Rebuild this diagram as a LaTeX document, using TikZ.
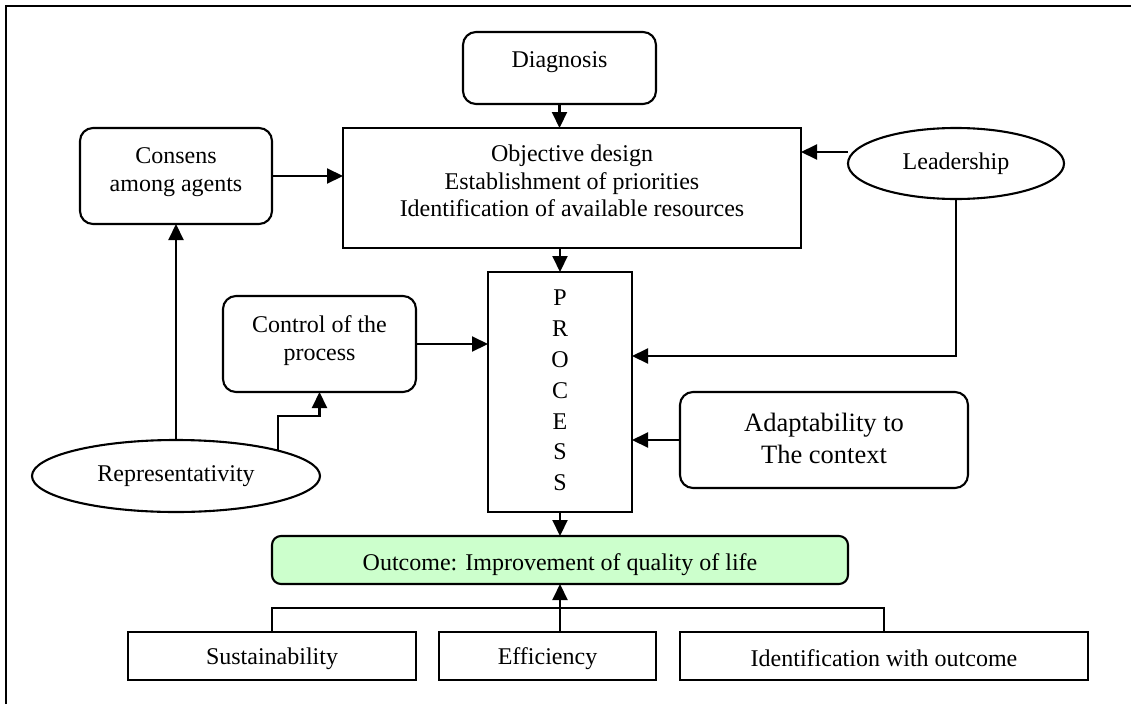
\documentclass[tikz,border=0pt]{standalone}
\usepackage{fontspec}
\setmainfont{Liberation Serif}
\usetikzlibrary{shapes.geometric,arrows.meta}

\definecolor{outcomegreen}{HTML}{CCFFCC}

% invisible struts that pad a node's text box below or above
\newcommand\padbelow[1]{\rule[-#1]{0pt}{0pt}}
\newcommand\padabove[1]{\rule{0pt}{#1}}

\begin{document}
\begin{tikzpicture}[x=1pt,y=-1pt,
  every node/.style={inner sep=0pt, outer sep=0pt, align=center,
                     font=\fontsize{24}{27.6}\selectfont},
  base/.style={draw, line width=2.1pt},
  sqbox/.style={base, rectangle},
  rbox/.style={base, rectangle, rounded corners=13pt},
  oval/.style={base, ellipse},
  arr/.style={line width=2.1pt, -{Triangle[length=16pt,width=15pt]}},
  link/.style={line width=2.1pt}]

\useasboundingbox (0,0) rectangle (1131,704);

% outer frame (top and left edges)
\draw[line width=2.1pt] (6,704) -- (6,6) -- (1131,6);

% planning stage
\node[rbox, minimum width=193, minimum height=72] (diag) at (559.5,68)
  {\raisebox{16pt}{Diagnosis}};
\node[sqbox, minimum width=458, minimum height=120] (obj) at (572,188)
  {Objective design\\Establishment of priorities\\Identification of available resources\padbelow{14pt}};
\node[rbox, minimum width=192, minimum height=96] (cons) at (176,176)
  {Consens\\among agents\padbelow{12.5pt}};
\node[oval, minimum width=216, minimum height=71] (lead) at (956,163.5)
  {Leadership};

% process stage
\node[sqbox, minimum width=144, minimum height=240,
      font=\fontsize{24}{30.8}\selectfont] (proc) at (560,392)
  {P\\R\\O\\C\\E\\S\\S\padbelow{3pt}};
\node[rbox, minimum width=193, minimum height=96] (ctrl) at (319.5,344)
  {Control of the\\process\padbelow{12.5pt}};
\node[rbox, minimum width=288, minimum height=96,
      font=\fontsize{26.5}{32}\selectfont] (adapt) at (824,440)
  {Adaptability to\\The context\padbelow{4pt}};
\node[oval, minimum width=288, minimum height=72] (rep) at (176,476)
  {Representativity};

% outcome stage
\node[rbox, rounded corners=9pt, fill=outcomegreen,
      minimum width=576, minimum height=48] (out) at (560,560)
  {\padabove{26pt}Outcome: Improvement of quality of life};
\node[sqbox, minimum width=288, minimum height=48] (sus) at (272,656)
  {\padabove{22.5pt}Sustainability};
\node[sqbox, minimum width=217, minimum height=48] (eff) at (547.5,656)
  {\padabove{22.5pt}Efficiency};
\node[sqbox, minimum width=408, minimum height=48] (ident) at (884,656)
  {\padabove{20.5pt}Identification with outcome};

% connectors
\draw[arr] (diag.south) -- (diag.south |- obj.north);
\draw[arr] (cons.east) -- (cons.east -| obj.west);
\draw[arr] (lead.west |- 0,152) -- (obj.east |- 0,152);
\draw[arr] (proc.north |- obj.south) -- (proc.north);
\draw[arr] (ctrl.east) -- (ctrl.east -| proc.west);
\draw[arr] (lead.south) |- (proc.east |- 0,356);
\draw[arr] (adapt.west) -- (adapt.west -| proc.east);
\draw[arr] (rep.north) -- (cons.south);
\draw[arr] (rep.north east) -- ++(0,-34.5) -| (ctrl.south);
\draw[arr] (proc.south) -- (out.north);
\draw[arr] (out.south |- eff.north) -- (out.south);
\draw[link] (sus.north) -- ++(0,-24) -| (ident.north);

\end{tikzpicture}
\end{document}
